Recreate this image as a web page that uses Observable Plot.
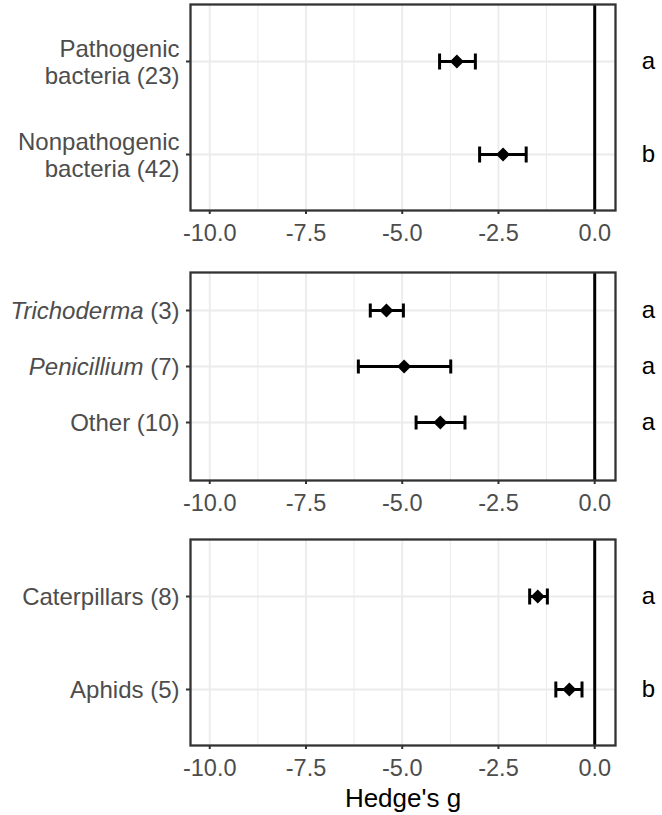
<!DOCTYPE html>
<html>
<head>
<meta charset="utf-8">
<script src="https://cdn.jsdelivr.net/npm/d3@7"></script>
<script src="https://cdn.jsdelivr.net/npm/@observablehq/plot@0.6"></script>
<style>
  html, body { margin: 0; padding: 0; background: #fff; }
  #chart svg { display: block; }
</style>
</head>
<body>
<div id="chart"></div>
<script>
// ---- data ----
const bacteriaLabels = ["Pathogenic\nbacteria (23)", "Nonpathogenic\nbacteria (42)"];
const bacteriaMean = [-3.58, -2.38];
const bacteriaLow = [-4.03, -2.99];
const bacteriaHigh = [-3.10, -1.78];
const bacteriaLetters = ["a", "b"];

const fungiLabels = ["Trichoderma (3)", "Penicillium (7)", "Other (10)"];
const fungiMean = [-5.41, -4.95, -4.01];
const fungiLow = [-5.83, -6.14, -4.64];
const fungiHigh = [-4.97, -3.74, -3.37];
const fungiLetters = ["a", "a", "a"];

const insectLabels = ["Caterpillars (8)", "Aphids (5)"];
const insectMean = [-1.48, -0.66];
const insectLow = [-1.69, -1.01];
const insectHigh = [-1.23, -0.33];
const insectLetters = ["a", "b"];

const xMajorTicks = [-10, -7.5, -5, -2.5, 0];
const xMinorTicks = [-8.75, -6.25, -3.75, -1.25];
const xLabel = "Hedge's g";
const italicGenera = ["Trichoderma", "Penicillium"];

// ---- helpers ----
const FONT = "'Liberation Sans', Arial, Helvetica, sans-serif";
const W = 662;

// vertical line symbol for error-bar caps (half-length = r)
const capSymbol = {
  draw(context, size) {
    const h = Math.sqrt(size / Math.PI);
    context.moveTo(0, -h);
    context.lineTo(0, h);
  }
};

function rows(labels, mean, low, high, letters) {
  return labels.map((cat, i) => ({cat, mean: mean[i], low: low[i], high: high[i], letter: letters[i]}));
}

function panel(data, opts) {
  const cats = data.map(d => d.cat);
  const marks = [
    Plot.ruleX(xMinorTicks, {stroke: "#ebebeb", strokeWidth: 1.0}),
    Plot.ruleX(xMajorTicks, {stroke: "#ebebeb", strokeWidth: 1.8}),
    Plot.ruleY(cats, {stroke: "#ebebeb", strokeWidth: 1.8}),
    Plot.ruleX([0], {stroke: "#000", strokeWidth: 3}),
    Plot.ruleY(data, {y: "cat", x1: "low", x2: "high", stroke: "#000", strokeWidth: 3}),
    Plot.dot(data, {y: "cat", x: "low", symbol: capSymbol, r: opts.cap, stroke: "#000", fill: "none", strokeWidth: 3}),
    Plot.dot(data, {y: "cat", x: "high", symbol: capSymbol, r: opts.cap, stroke: "#000", fill: "none", strokeWidth: 3}),
    Plot.dot(data, {y: "cat", x: "mean", symbol: "diamond2", r: 6.3, fill: "#000", stroke: null}),
    Plot.frame({stroke: "#333333", strokeWidth: 2.3}),
    Plot.axisX({ticks: xMajorTicks, tickFormat: d => d.toFixed(1), tickSize: 4, tickPadding: 10,
      fontSize: 23.5, fill: "#4d4d4d", stroke: "#333333", strokeWidth: 2, label: null}),
    Plot.axisY({tickSize: 4, tickPadding: 7, fontSize: 24, fill: "#4d4d4d", stroke: "#333333",
      strokeWidth: 2, lineHeight: 1.12, label: null}),
    Plot.text(data, {y: "cat", text: "letter", frameAnchor: "right", dx: 33, textAnchor: "middle",
      fontSize: 24, fill: "#000"})
  ];
  if (opts.title) {
    marks.push(Plot.text([opts.title], {frameAnchor: "bottom", dy: 61, fontSize: 26, fill: "#000"}));
  }
  const svg = Plot.plot({
    width: W,
    height: opts.height,
    marginLeft: 190,
    marginRight: 47,
    marginTop: opts.marginTop,
    marginBottom: opts.marginBottom,
    style: {fontFamily: FONT, background: "#fff", overflow: "visible"},
    x: {domain: [-10.5, 0.54]},
    y: {type: "point", domain: cats, padding: 0.6, insetTop: opts.insetTop || 0, insetBottom: opts.insetBottom || 0},
    marks
  });
  // italicise genus names in the y tick labels
  d3.select(svg).selectAll("text").each(function() {
    const t = this.textContent;
    for (const g of italicGenera) {
      if (t.startsWith(g) && this.childElementCount === 0) {
        const rest = t.slice(g.length);
        const sel = d3.select(this);
        sel.text(null);
        sel.append("tspan").attr("font-style", "italic").text(g);
        sel.append("tspan").text(rest);
      }
    }
  });
  return svg;
}

const chart = document.getElementById("chart");
chart.appendChild(panel(rows(bacteriaLabels, bacteriaMean, bacteriaLow, bacteriaHigh, bacteriaLetters),
  {height: 262, marginTop: 4, marginBottom: 52, cap: 8}));
chart.appendChild(panel(rows(fungiLabels, fungiMean, fungiLow, fungiHigh, fungiLetters),
  {height: 267, marginTop: 10, marginBottom: 49, insetTop: 4, insetBottom: 24, cap: 7}));
chart.appendChild(panel(rows(insectLabels, insectMean, insectLow, insectHigh, insectLetters),
  {height: 286, marginTop: 10, marginBottom: 70, cap: 8, title: xLabel}));
</script>
</body>
</html>
